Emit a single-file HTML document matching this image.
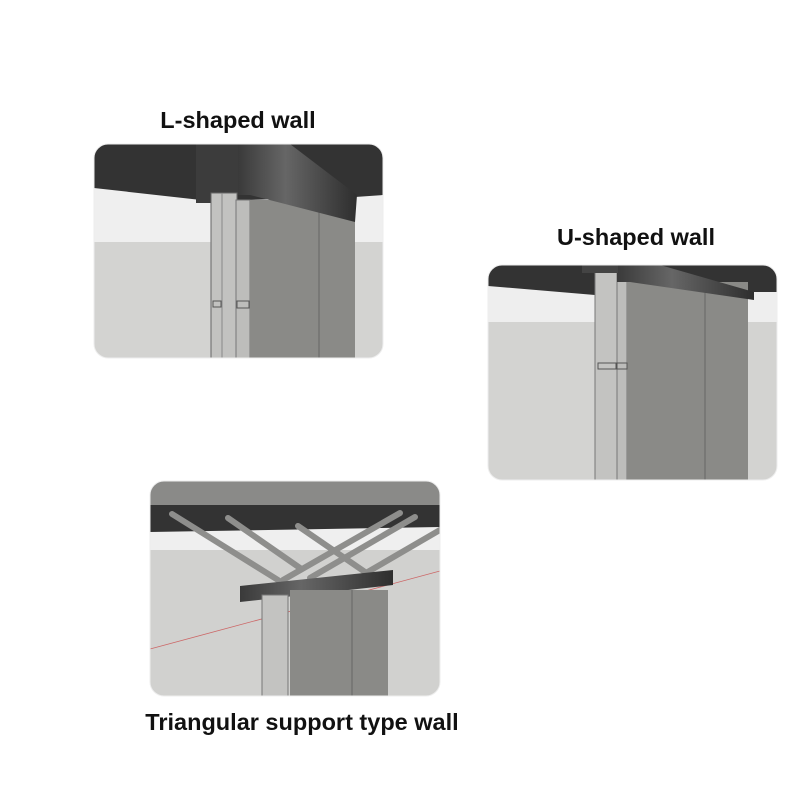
<!DOCTYPE html>
<html><head><style>
body{margin:0;background:#fff;width:800px;height:800px;overflow:hidden}
svg{display:block}
text{font-family:"Liberation Sans",Arial,sans-serif;font-weight:bold;font-size:23.5px;fill:#111}
</style></head><body>
<svg width="800" height="800" viewBox="0 0 800 800" xmlns="http://www.w3.org/2000/svg">
<defs>
<clipPath id="c1"><rect x="94" y="144" width="289" height="214" rx="14"/></clipPath>
<clipPath id="c2"><rect x="488" y="265" width="289" height="215" rx="14"/></clipPath>
<clipPath id="c3"><rect x="150" y="481" width="290" height="215" rx="14"/></clipPath>
<linearGradient id="hg" x1="0" x2="1"><stop offset="0" stop-color="#3a3a3a"/><stop offset="0.4" stop-color="#666"/><stop offset="1" stop-color="#2e2e2e"/></linearGradient>
</defs>
<text x="238" y="128" text-anchor="middle">L-shaped wall</text>
<text x="636" y="245" text-anchor="middle">U-shaped wall</text>
<text x="302" y="730" text-anchor="middle">Triangular support type wall</text>

<g clip-path="url(#c1)">
<rect x="94" y="144" width="289" height="214" fill="#d3d3d1"/>
<rect x="94" y="180" width="289" height="62" fill="#efefef"/>
<polygon points="94,144 383,144 383,195 355,197 210,201 94,188" fill="#333"/>
<rect x="196" y="144" width="42" height="59" fill="#3c3c3c"/>
<rect x="211" y="193" width="26" height="165" fill="#c2c2c0" stroke="#666" stroke-width="1"/>
<line x1="222" y1="193" x2="222" y2="358" stroke="#888"/>
<rect x="236" y="200" width="14" height="158" fill="#bdbdbb" stroke="#777" stroke-width="1"/>
<rect x="250" y="200" width="105" height="158" fill="#8a8a87"/>
<line x1="319" y1="205" x2="319" y2="358" stroke="#666"/>
<polygon points="238,144 290,144 357,195 355,222 250,195 238,195" fill="url(#hg)"/>
<rect x="213" y="301" width="8" height="6" fill="none" stroke="#555"/>
<rect x="237" y="301" width="12" height="7" fill="none" stroke="#555"/>
</g>
<rect x="94" y="144" width="289" height="214" rx="14" fill="none" stroke="#eee"/>

<g clip-path="url(#c2)">
<rect x="488" y="265" width="289" height="215" fill="#d3d3d1"/>
<rect x="488" y="285" width="289" height="37" fill="#eeeeee"/>
<polygon points="488,265 777,265 777,292 750,292 595,295 488,286" fill="#333"/>
<rect x="595" y="270" width="22" height="210" fill="#c3c3c1" stroke="#777" stroke-width="1"/>
<rect x="617" y="278" width="10" height="202" fill="#bdbdbb" stroke="#777" stroke-width="1"/>
<rect x="627" y="282" width="121" height="198" fill="#8a8a87"/>
<line x1="705" y1="292" x2="705" y2="480" stroke="#666"/>
<polygon points="617,265 660,265 754,292 754,300 630,282 617,282" fill="url(#hg)"/>
<rect x="582" y="265" width="36" height="8" fill="#444"/>
<rect x="598" y="363" width="18" height="6" fill="none" stroke="#555"/>
<rect x="617" y="363" width="10" height="6" fill="none" stroke="#555"/>
</g>
<rect x="488" y="265" width="289" height="215" rx="14" fill="none" stroke="#eee"/>

<g clip-path="url(#c3)">
<rect x="150" y="481" width="290" height="215" fill="#d1d1cf"/>
<rect x="150" y="525" width="290" height="25" fill="#efefef"/>
<rect x="150" y="481" width="290" height="24" fill="#8a8a88"/>
<polygon points="150,505 440,505 440,527 150,532" fill="#333"/>
<line x1="150" y1="649" x2="440" y2="571" stroke="#c66" stroke-width="0.8"/>
<g stroke="#8e8e8c" stroke-width="6" stroke-linecap="round">
<line x1="172" y1="514" x2="278" y2="580"/>
<line x1="228" y1="518" x2="300" y2="568"/>
<line x1="298" y1="526" x2="365" y2="572"/>
<line x1="400" y1="513" x2="283" y2="580"/>
<line x1="415" y1="517" x2="310" y2="578"/>
<line x1="445" y1="527" x2="366" y2="573"/>
</g>
<polygon points="240,586 393,570 393,585 240,602" fill="url(#hg)"/>
<rect x="262" y="595" width="26" height="101" fill="#c3c3c1" stroke="#777" stroke-width="1"/>
<rect x="290" y="590" width="98" height="106" fill="#8a8a87"/>
<line x1="352" y1="590" x2="352" y2="696" stroke="#666"/>
</g>
<rect x="150" y="481" width="290" height="215" rx="14" fill="none" stroke="#eee"/>
</svg>
</body></html>
